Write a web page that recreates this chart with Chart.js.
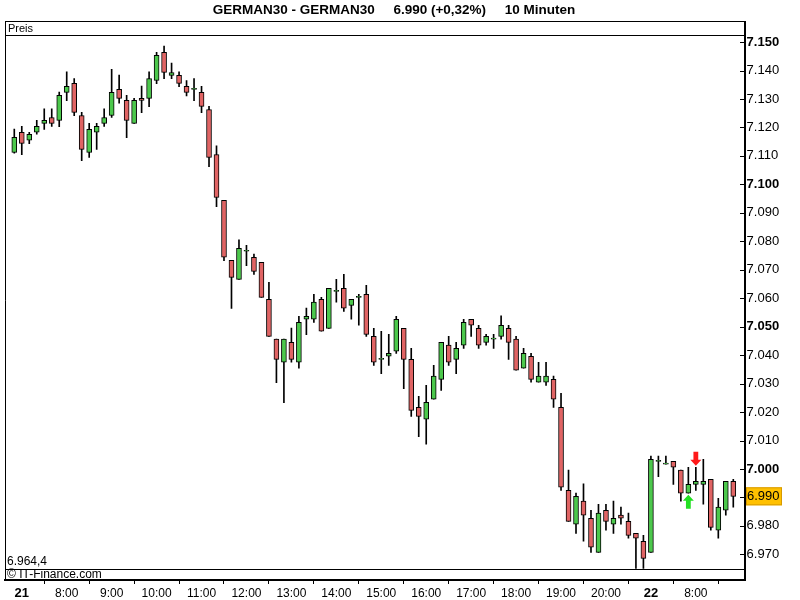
<!DOCTYPE html>
<html><head><meta charset="utf-8">
<script src="https://cdn.jsdelivr.net/npm/chart.js@4.4.1/dist/chart.umd.min.js"></script>
<style>html,body{margin:0;padding:0;background:#fff}canvas{display:block}</style>
</head><body>
<canvas id="c" width="800" height="600"></canvas>
<script>
const times = ['20:50',
 '07:00','07:10','07:20','07:30','07:40','07:50',
 '08:00','08:10','08:20','08:30','08:40','08:50',
 '09:00','09:10','09:20','09:30','09:40','09:50',
 '10:00','10:10','10:20','10:30','10:40','10:50',
 '11:00','11:10','11:20','11:30','11:40','11:50',
 '12:00','12:10','12:20','12:30','12:40','12:50',
 '13:00','13:10','13:20','13:30','13:40','13:50',
 '14:00','14:10','14:20','14:30','14:40','14:50',
 '15:00','15:10','15:20','15:30','15:40','15:50',
 '16:00','16:10','16:20','16:30','16:40','16:50',
 '17:00','17:10','17:20','17:30','17:40','17:50',
 '18:00','18:10','18:20','18:30','18:40','18:50',
 '19:00','19:10','19:20','19:30','19:40','19:50',
 '20:00','20:10','20:20','20:30','20:40','20:50',
 '07:00','07:10','07:20','07:30','07:40','07:50',
 '08:00','08:10','08:20','08:30','08:40','08:50'];

const open = [7111.2,7118.3,7115.5,7118.3,7121.4,7123.5,7122.5,7132.3,7135.5,7124.2,
 7111.2,7118.3,7121.4,7124.2,7133.4,7129.5,7121.4,7130.2,7130.2,7136.5,
 7146.4,7138.3,7138.3,7134.4,7133.4,7132.3,7126.3,7110.5,7094.4,7073.3,
 7066.6,7076.5,7074.4,7072.6,7059.6,7045.6,7037.5,7044.5,7037.5,7052.6,
 7052.6,7059.6,7049.4,7062.4,7063.5,7057.5,7060.3,7061.4,7046.6,7038.5,
 7039.6,7041.4,7049.4,7038.5,7021.7,7017.5,7024.5,7031.5,7043.5,7038.5,
 7043.5,7052.6,7049.4,7044.5,7045.6,7046.6,7049.4,7045.6,7035.4,7039.6,
 7030.5,7030.5,7031.5,7021.7,6992.5,6980.6,6988.7,6982.7,6970.7,6985.5,
 6980.6,6983.8,6981.6,6977.4,6974.6,6970.7,7002.7,7001.7,7002.7,6999.6,
 6991.5,6994.6,6994.6,6996.4,6978.5,6985.5,6995.7];
const high = [7119.4,7120.4,7118.3,7122.5,7126.5,7126.5,7132.4,7139.5,7137.2,7125.3,
 7121.4,7121.4,7126.5,7140.4,7138.4,7131.3,7130.2,7134.5,7139.5,7146.4,
 7148.6,7142.6,7139.5,7136.5,7137.2,7134.4,7127.4,7113.5,7094.4,7073.3,
 7080.5,7078.6,7075.5,7072.6,7065.6,7045.6,7045.6,7049.5,7053.6,7056.5,
 7061.4,7060.3,7063.5,7066.6,7068.4,7059.6,7061.4,7064.5,7049.4,7048.4,
 7047.3,7053.6,7049.4,7042.4,7025.5,7029.4,7036.4,7044.5,7046.6,7044.5,
 7052.6,7052.6,7050.5,7047.3,7047.3,7053.8,7050.5,7046.6,7042.4,7040.6,
 7037.5,7037.5,7032.6,7026.6,6999.6,6991.5,6994.8,6985.5,6987.6,6987.6,
 6988.7,6986.6,6984.5,6977.4,6976.7,7004.5,7004.5,7004.5,7002.7,6999.6,
 7000.6,7000.6,7003.4,6996.4,6989.7,6995.7,6996.4];
const low = [7111.0,7110.4,7114.3,7117.6,7119.3,7120.4,7120.3,7129.4,7124.1,7108.3,
 7109.5,7112.3,7120.4,7123.5,7128.5,7116.4,7121.4,7125.2,7127.3,7135.4,
 7137.1,7137.1,7134.3,7131.1,7129.4,7125.2,7106.2,7092.2,7073.2,7056.4,
 7066.6,7071.4,7068.4,7060.3,7046.6,7030.3,7023.3,7037.5,7035.4,7047.2,
 7051.5,7048.4,7049.4,7058.6,7055.4,7052.6,7050.5,7046.6,7036.4,7033.5,
 7036.4,7040.6,7028.2,7018.5,7011.4,7008.7,7024.5,7027.6,7036.4,7033.5,
 7042.4,7046.6,7042.4,7043.5,7042.4,7045.6,7038.5,7034.7,7035.4,7030.5,
 7030.5,7029.4,7021.6,6992.5,6981.6,6977.4,6974.6,6970.7,6970.7,6978.5,
 6977.4,6980.6,6975.7,6965.1,6965.1,6970.7,6997.3,7001.7,6994.6,6988.7,
 6991.5,6992.5,6987.6,6978.5,6975.7,6983.8,6986.6];
const close = [7116.5,7114.4,7117.6,7120.4,7122.5,7121.4,7131.3,7134.4,7125.3,7112.3,
 7119.3,7120.4,7123.5,7132.3,7130.2,7122.5,7129.5,7129.5,7137.2,7145.3,
 7139.3,7139.3,7135.5,7132.3,7133.4,7127.4,7109.5,7095.4,7074.4,7067.3,
 7077.5,7076.5,7069.4,7060.3,7046.6,7038.5,7045.6,7038.5,7051.5,7053.6,
 7058.6,7048.4,7063.5,7062.4,7056.5,7059.6,7060.3,7047.3,7037.5,7038.5,
 7040.6,7052.6,7038.5,7020.6,7018.5,7023.4,7032.6,7044.5,7037.5,7042.4,
 7051.5,7050.5,7043.5,7046.6,7045.6,7050.5,7044.5,7034.7,7040.6,7031.5,
 7032.6,7032.6,7024.5,6993.6,6981.6,6990.4,6983.8,6972.5,6984.5,6981.6,
 6982.7,6982.7,6976.7,6975.7,6968.6,7003.4,7002.7,7001.7,7000.6,6991.5,
 6994.6,6995.7,6995.7,6979.5,6986.6,6995.7,6990.4];

const xTickIdx = [1,7,13,19,25,31,37,43,49,55,61,67,73,79,85,91];
const xTickLabels = ['21','8:00','9:00','10:00','11:00','12:00','13:00','14:00','15:00','16:00','17:00','18:00','19:00','20:00','22','8:00'];
const dayLabels = ['21','22'];
const buySignals = [90];
const sellSignals = [91];
const titleText = 'GERMAN30 - GERMAN30     6.990 (+0,32%)     10 Minuten';
const panelLabel = 'Preis';
const lowLabel = '6.964,4';
const copyright = '\u00A9 IT-Finance.com';

const FONT = '"Liberation Sans", Arial, sans-serif';
const UP = '#4CC84C', DOWN = '#E06464';

function de(v) {
  const s = Math.round(v).toString();
  return s.slice(0, -3) + '.' + s.slice(-3);
}

const decor = {
  id: 'decor',
  beforeDatasetsDraw(chart) {
    const c = chart.ctx;
    c.save();
    c.strokeStyle = '#000';
    c.lineWidth = 1;
    c.beginPath();
    c.moveTo(5, 21.5); c.lineTo(745, 21.5);
    c.moveTo(5, 35.5); c.lineTo(745, 35.5);
    c.moveTo(5.5, 21.5); c.lineTo(5.5, 580);
    c.moveTo(5, 569.5); c.lineTo(745, 569.5);
    c.stroke();
    c.restore();
  },
  afterDraw(chart) {
    const c = chart.ctx;
    const xs = chart.scales.x, ys = chart.scales.y;
    c.save();
    c.strokeStyle = '#000';
    c.lineWidth = 2;
    c.beginPath(); c.moveTo(745, 21); c.lineTo(745, 37); c.stroke();
    c.lineWidth = 1;
    c.beginPath();
    ys.ticks.forEach(t => {
      const y = Math.round(ys.getPixelForValue(t.value)) + 0.5;
      c.moveTo(740, y); c.lineTo(744, y);
    });
    c.stroke();
    c.fillStyle = '#000';
    c.textBaseline = 'middle';
    c.textAlign = 'center';
    c.font = 'bold 13.5px ' + FONT;
    c.fillText(titleText, 394, 10);
    c.textAlign = 'left';
    c.font = '11px ' + FONT;
    c.fillText(panelLabel, 8, 28.5);
    c.font = '12px ' + FONT;
    c.fillText(lowLabel, 7, 562);
    c.fillText(copyright, 7, 574.5);
    const last = close[close.length - 1];
    const py = ys.getPixelForValue(last);
    c.fillStyle = '#FFC000';
    c.fillRect(746, py - 9, 36, 18);
    c.strokeStyle = '#D79A00';
    c.strokeRect(746.5, py - 8.5, 35, 17);
    c.fillStyle = '#000';
    c.font = '13px ' + FONT;
    c.fillText(de(last), 747, py + 0.5);
    function arrow(x, tip, dir, color) {
      const L = 14, hh = 6, hw = 5.5, sw = 2.4;
      const base = tip + dir * L, neck = tip + dir * hh;
      c.beginPath();
      c.moveTo(x, tip);
      c.lineTo(x + hw, neck);
      c.lineTo(x + sw, neck);
      c.lineTo(x + sw, base);
      c.lineTo(x - sw, base);
      c.lineTo(x - sw, neck);
      c.lineTo(x - hw, neck);
      c.closePath();
      c.fillStyle = color;
      c.fill();
    }
    buySignals.forEach(i => {
      arrow(xs.getPixelForValue(i), ys.getPixelForValue(low[i]) + 1.5, 1, '#22E022');
    });
    sellSignals.forEach(i => {
      arrow(xs.getPixelForValue(i), ys.getPixelForValue(high[i]) - 1.5, -1, '#FF1A1A');
    });
    c.restore();
  }
};

new Chart(document.getElementById('c'), {
  type: 'bar',
  data: {
    labels: times,
    datasets: [
      {
        label: 'Wick',
        data: open.map((_, i) => ({ x: i, y: [low[i], high[i]] })),
        backgroundColor: '#000',
        borderWidth: 0,
        barThickness: 1,
        grouped: false,
        order: 2
      },
      {
        label: 'Body',
        data: open.map((o, i) => ({ x: i, y: [o, close[i]] })),
        backgroundColor: open.map((o, i) => close[i] >= o ? UP : DOWN),
        borderColor: '#000',
        borderWidth: 1,
        borderSkipped: false,
        barThickness: 5,
        minBarLength: 1,
        grouped: false,
        order: 1
      }
    ]
  },
  options: {
    responsive: false,
    animation: false,
    devicePixelRatio: 1,
    layout: { padding: { left: 5, top: 35.5, right: 0, bottom: 0 } },
    plugins: { legend: { display: false }, tooltip: { enabled: false }, title: { display: false } },
    scales: {
      x: {
        type: 'linear',
        min: -1.24,
        max: 97.51,
        offset: false,
        afterFit: s => { s.height = 20; },
        afterBuildTicks: s => { s.ticks = xTickIdx.map(v => ({ value: v })); },
        ticks: {
          autoSkip: false,
          maxRotation: 0,
          padding: 2,
          color: '#000',
          callback: v => { const k = xTickIdx.indexOf(v); return k >= 0 ? xTickLabels[k] : ''; },
          font: ctx => {
            const k = ctx.tick ? xTickIdx.indexOf(ctx.tick.value) : -1;
            const bold = k >= 0 && dayLabels.includes(xTickLabels[k]);
            return { family: FONT, size: bold ? 13 : 12, weight: bold ? 'bold' : 'normal' };
          }
        },
        grid: { drawOnChartArea: false, drawTicks: true, tickLength: 4, color: '#000' },
        border: { display: true, color: '#000', width: 2 }
      },
      y: {
        type: 'linear',
        position: 'right',
        min: 6961.0,
        max: 7152.3,
        afterFit: s => { s.width = 55.4; },
        ticks: {
          stepSize: 10,
          includeBounds: false,
          padding: 2,
          color: '#000',
          callback: v => de(v),
          font: ctx => ({
            family: FONT, size: 13,
            weight: ctx.tick && Math.round(ctx.tick.value) % 50 === 0 ? 'bold' : 'normal'
          })
        },
        grid: { drawOnChartArea: false, drawTicks: false },
        border: { display: true, color: '#000', width: 2 }
      }
    }
  },
  plugins: [decor]
});
</script>
</body></html>
